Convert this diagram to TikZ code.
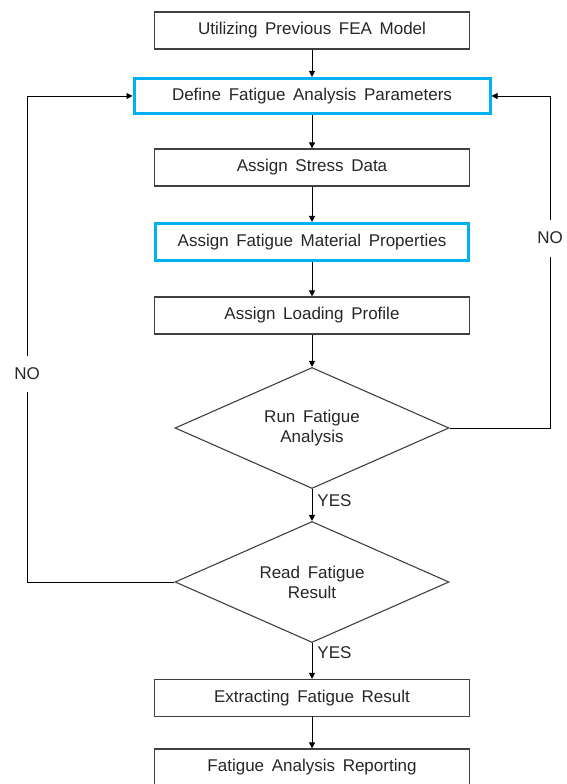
\documentclass[tikz,border=0pt]{standalone}
\usepackage{fontspec}
\setmainfont{Liberation Sans}
\usetikzlibrary{arrows.meta,shapes.geometric}
\definecolor{keyblue}{HTML}{00B0F0}
\definecolor{ink}{HTML}{262626}
\newcommand{\flowfont}{\fontsize{17}{20}\selectfont\spaceskip=0.45em plus 0.1em}
\tikzset{>/.tip={Triangle[length=6pt,width=6pt]},
  stepbox/.style={draw=black!75, line width=1.2pt, minimum width=315pt, minimum height=37pt, text=ink, font=\flowfont},
  keybox/.style={stepbox, draw=keyblue, line width=3pt},
  choice/.style={diamond, aspect=2.26, draw=black!75, line width=1.1pt, minimum width=274pt, minimum height=121pt, inner sep=0pt, align=center, text=ink, font=\flowfont},
  answer/.style={text=ink, font=\flowfont, inner sep=2pt},
  link/.style={->, line width=0.9pt}}

\begin{document}
\begin{tikzpicture}[x=1pt, y=1pt]
\useasboundingbox (0,0) rectangle (566,784);

\node[stepbox] (fea) at (312,753.5) {Utilizing Previous FEA Model};
\node[keybox, minimum width=356pt, minimum height=35pt] (params) at (312,688) {Define Fatigue Analysis Parameters};
\node[stepbox] (stress) at (312,616.5) {Assign Stress Data};
\node[keybox, minimum width=313pt] (material) at (312,542) {Assign Fatigue Material Properties};
\node[stepbox] (loading) at (312,468.5) {Assign Loading Profile};
\node[choice] (run) at (312,356) {Run Fatigue\\Analysis};
\node[choice] (read) at (312,202) {Read Fatigue\\Result};
\node[stepbox] (extract) at (312,86) {Extracting Fatigue Result};
\node[stepbox] (report) at (312,16.5) {Fatigue Analysis Reporting};

% bends of the two loops
\coordinate (lbend) at (27,202);
\coordinate (rbend) at (550,356);

\draw[link] (fea) to (params);
\draw[link] (params) to (stress);
\draw[link] (stress) to (material);
\draw[link] (material) to (loading);
\draw[link] (loading) to (run);
\draw[link] (run) to node[answer, right, pos=0.35, inner xsep=5pt] {YES} (read);
\draw[link] (read) to node[answer, right, pos=0.26, inner xsep=5pt] {YES} (extract);
\draw[link] (extract) to (report);

\draw[link] (read.west) -- (lbend) |- node[answer, pos=0.214, fill=white, minimum height=36pt] {NO} (params.west);
\draw[link] (run.east) -- (rbend) |- node[answer, pos=0.286, fill=white, minimum height=37pt] {NO} (params.east);
\end{tikzpicture}
\end{document}
